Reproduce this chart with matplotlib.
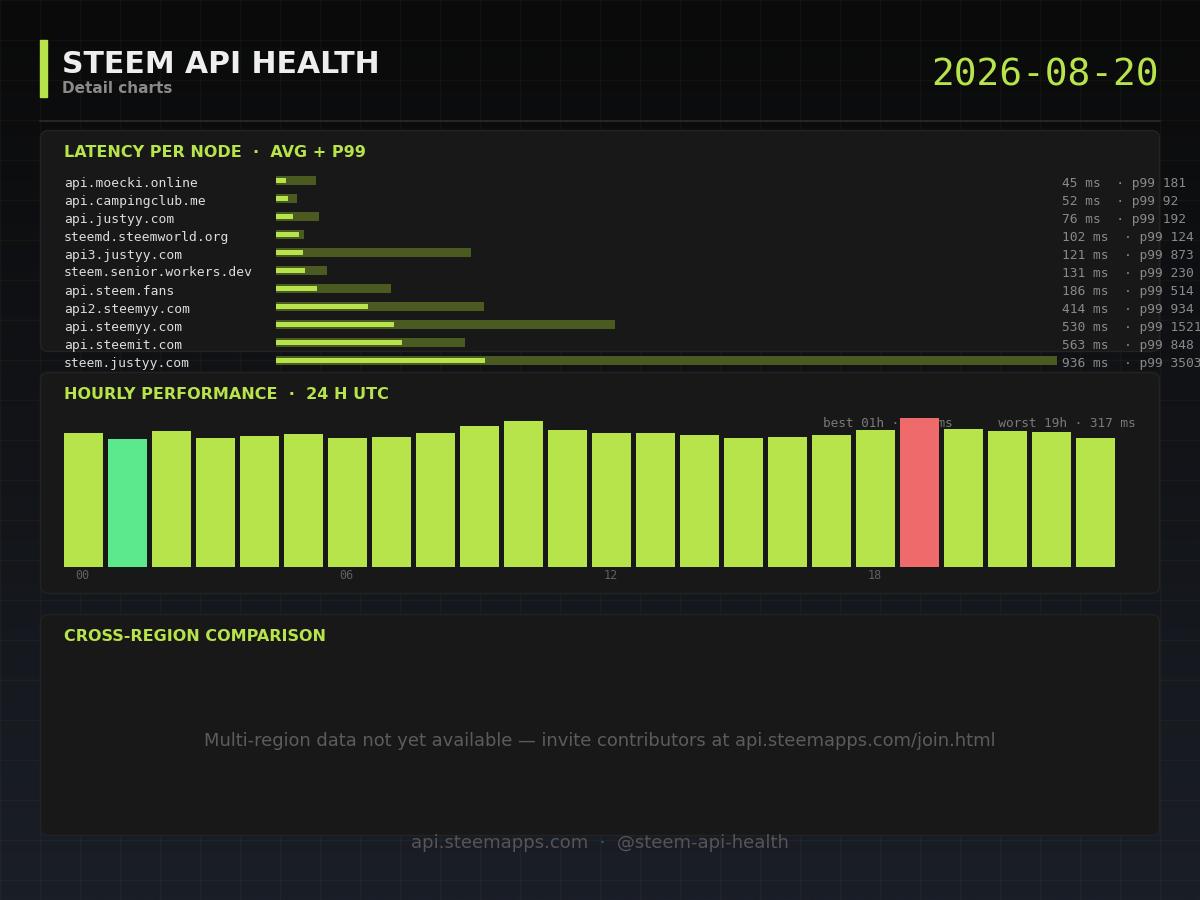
import numpy as np
import matplotlib
matplotlib.use("Agg")
import matplotlib.pyplot as plt
from matplotlib.patches import FancyBboxPatch, Rectangle

# ---------------- data ----------------
nodes = ["api.moecki.online", "api.campingclub.me", "api.justyy.com",
         "steemd.steemworld.org", "api3.justyy.com", "steem.senior.workers.dev",
         "api.steem.fans", "api2.steemyy.com", "api.steemyy.com",
         "api.steemit.com", "steem.justyy.com"]
avg_ms = [45, 52, 76, 102, 121, 131, 186, 414, 530, 563, 936]
p99_ms = [181, 92, 192, 124, 873, 230, 514, 934, 1521, 848, 3503]

hours = list(range(24))
hourly_ms = [285, 273, 289, 274, 279, 283, 275, 277, 285, 300, 311, 292,
             285, 285, 281, 274, 277, 281, 292, 317, 294, 289, 287, 274]
hour_ticks = [0, 6, 12, 18]
hour_tick_labels = ["00", "06", "12", "18"]

title = "STEEM API HEALTH"
subtitle = "Detail charts"
date_str = "2026-08-20"
footer = "api.steemapps.com  ·  @steem-api-health"
cross_msg = "Multi-region data not yet available — invite contributors at api.steemapps.com/join.html"

# ---------------- style ----------------
LIME = "#b7e44b"
OLIVE = "#4b5a21"
GOOD = "#5ce88c"
BAD = "#ef6b6b"
PANEL = "#181818"
PANEL_EDGE = "#232323"
MONO = "DejaVu Sans Mono"

W, H = 1200, 900
fig = plt.figure(figsize=(12, 9), dpi=100)

bg = fig.add_axes([0, 0, 1, 1], zorder=0)
bg.set_xlim(0, W)
bg.set_ylim(H, 0)
bg.axis("off")

# gradient background
top = np.array([10, 10, 10]) / 255
bot = np.array([26, 30, 39]) / 255
t = np.linspace(0, 1, 256)[:, None, None]
grad = top[None, None, :] * (1 - t) + bot[None, None, :] * t
bg.imshow(grad, extent=[0, W, H, 0], aspect="auto", zorder=0, interpolation="bilinear")

# faint grid
for x in range(0, W + 1, 40):
    bg.plot([x, x], [0, H], color=LIME, alpha=0.04, lw=1, zorder=1)
for y in range(0, H + 1, 40):
    bg.plot([0, W], [y, y], color=LIME, alpha=0.04, lw=1, zorder=1)

# header
bg.add_patch(Rectangle((40, 40), 7, 57, color=LIME, zorder=3))
bg.text(62, 73, title, fontsize=21.5, fontweight="bold", color="#eeeeee",
        ha="left", va="baseline", zorder=3)
bg.text(62, 93, subtitle, fontsize=11, fontweight="bold", color="#8a8a8a",
        ha="left", va="baseline", zorder=3)
bg.text(1159, 85, date_str, fontsize=27.3, family=MONO, color=LIME,
        ha="right", va="baseline", zorder=3)
bg.plot([40, 1160], [120.5, 120.5], color="#2a2a2a", lw=1.2, zorder=3)

# panels
panels = [(130, "LATENCY PER NODE  ·  AVG + P99"),
          (372, "HOURLY PERFORMANCE  ·  24 H UTC"),
          (614, "CROSS-REGION COMPARISON")]
for py, ptitle in panels:
    bg.add_patch(FancyBboxPatch((40.5, py + 0.5), 1119, 221,
                                boxstyle="round,pad=0,rounding_size=8",
                                facecolor=PANEL, edgecolor=PANEL_EDGE, lw=1, zorder=2))
    bg.text(64, py + 27, ptitle, fontsize=11.5, fontweight="bold", color=LIME,
            ha="left", va="baseline", zorder=3)

# best / worst caption (drawn beneath bars)
best_i = int(np.argmin(hourly_ms))
worst_i = int(np.argmax(hourly_ms))
cap = (f"best {hours[best_i]:02d}h · {hourly_ms[best_i]} ms      "
       f"worst {hours[worst_i]:02d}h · {hourly_ms[worst_i]} ms")
bg.text(1136, 427, cap, fontsize=9.2, family=MONO, color="#7a7a7a",
        ha="right", va="baseline", zorder=3)

# cross region message + footer
bg.text(600, 741, cross_msg, fontsize=12.9, color="#5c5c5c", ha="center",
        va="center", zorder=3)
bg.text(600, 843, footer, fontsize=13, color="#555555", ha="center",
        va="center", zorder=3)

# ---------------- latency bars ----------------
n = len(nodes)
row_h = 18
lat_top = 171.5
ax1 = fig.add_axes([276 / W, 1 - (lat_top + n * row_h) / H, 781 / W, n * row_h / H], zorder=5)
ax1.set_xlim(0, max(p99_ms))
ax1.set_ylim(n - 0.5, -0.5)
ax1.axis("off")
ax1.patch.set_alpha(0)
y = np.arange(n)
ax1.barh(y, p99_ms, height=9 / row_h, color=OLIVE, left=0)
ax1.barh(y, avg_ms, height=5 / row_h, color=LIME, left=0)
for i, (nm, a, p) in enumerate(zip(nodes, avg_ms, p99_ms)):
    ax1.text((64 - 276) / 781, i + 2.5 / row_h, nm, transform=ax1.get_yaxis_transform(),
             fontsize=9.4, family=MONO, color="#dddddd", ha="left", va="center", clip_on=False)
    ax1.text((1062 - 276) / 781, i + 2.5 / row_h, f"{a} ms  · p99 {p}",
             transform=ax1.get_yaxis_transform(), fontsize=9.3, family=MONO,
             color="#8a8a8a", ha="left", va="center", clip_on=False)

# ---------------- hourly bars ----------------
ax2 = fig.add_axes([61.5 / W, 1 - 567 / H, 1056 / W, 167 / H], zorder=5)
ax2.set_xlim(-0.5, 23.5)
ax2.set_ylim(0, max(hourly_ms) * 167 / 149)
ax2.axis("off")
ax2.patch.set_alpha(0)
colors = [LIME] * 24
colors[best_i] = GOOD
colors[worst_i] = BAD
ax2.bar(hours, hourly_ms, width=39 / 44, color=colors)
for hx, hl in zip(hour_ticks, hour_tick_labels):
    ax2.text(hx - 0.02, -8.5 / 167, hl, transform=ax2.get_xaxis_transform(), fontsize=8.5,
             family=MONO, color="#616161", ha="center", va="center", clip_on=False)

fig.savefig("out.png", dpi=100, facecolor="#0a0a0a")
